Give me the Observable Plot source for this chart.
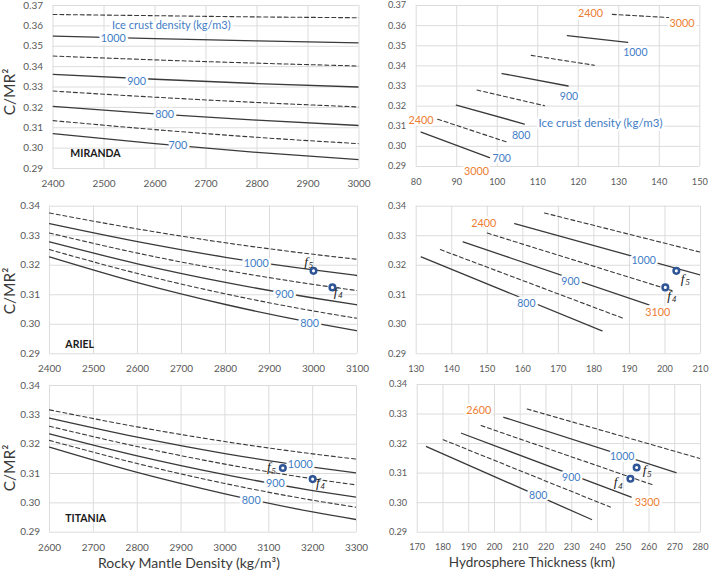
<!DOCTYPE html>
<html><head><meta charset="utf-8">
<script src="https://cdn.jsdelivr.net/npm/d3@7"></script>
<script src="https://cdn.jsdelivr.net/npm/@observablehq/plot@0.6"></script>
<style>
body{margin:0;background:#fff;}
#chart{position:relative;width:709px;height:573px;overflow:hidden;background:#fff;font-family:Lato,"Open Sans",sans-serif;}
#chart svg{position:absolute;}
.ttl{position:absolute;color:#3a3a3a;white-space:nowrap;line-height:1;}
</style></head><body><div id="chart"></div>
<script>
// ---------------- DATA ----------------
// MIRANDA
const mirandaIce = [1050, 1000, 950, 900, 850, 800, 750, 700];
const mirandaDensity = [2400, 2600, 2800, 3000];
const mirandaCM = [
  [0.3656, 0.3650, 0.3644, 0.3640],
  [0.3550, 0.3537, 0.3526, 0.3517],
  [0.3452, 0.3433, 0.3417, 0.3403],
  [0.3362, 0.3338, 0.3317, 0.3300],
  [0.3280, 0.3250, 0.3224, 0.3202],
  [0.3205, 0.3168, 0.3137, 0.3111],
  [0.3135, 0.3091, 0.3053, 0.3022],
  [0.3071, 0.3022, 0.2979, 0.2944]
];
const mirandaThickStart = [128.4, 117.3, 108.4, 101.2, 95.0, 89.9, 85.3, 81.2];
const mirandaThickEnd   = [142.3, 132.2, 124.0, 117.5, 111.7, 106.7, 102.3, 98.1];

// ARIEL
const arielIce = [1050, 1000, 950, 900, 850, 800];
const arielDensity = [2400, 2600, 2800, 3000, 3100];
const arielCM = [
  [0.3377, 0.3323, 0.3276, 0.3237, 0.3220],
  [0.3341, 0.3280, 0.3227, 0.3184, 0.3165],
  [0.3309, 0.3241, 0.3183, 0.3135, 0.3114],
  [0.3279, 0.3205, 0.3142, 0.3089, 0.3066],
  [0.3253, 0.3172, 0.3103, 0.3045, 0.3020],
  [0.3228, 0.3141, 0.3067, 0.3005, 0.2978]
];
const arielThickStart = [166.1, 157.7, 150.0, 143.2, 136.8, 131.4];
const arielThickEnd   = [218.0, 210.5, 202.0, 195.5, 188.3, 182.3];
const arielFit = ["5", "4"];
const arielFitDensity = [3000, 3043];
const arielFitCM = [0.3181, 0.3125];
const arielFitThick = [203.2, 200.1];

// TITANIA
const titaniaIce = [1050, 1000, 950, 900, 850, 800];
const titaniaDensity = [2600, 2800, 3000, 3200, 3300];
const titaniaCM = [
  [0.3317, 0.3259, 0.3209, 0.3167, 0.3149],
  [0.3289, 0.3224, 0.3168, 0.3122, 0.3102],
  [0.3261, 0.3192, 0.3132, 0.3082, 0.3061],
  [0.3235, 0.3160, 0.3096, 0.3042, 0.3019],
  [0.3213, 0.3134, 0.3066, 0.3009, 0.2985],
  [0.3190, 0.3104, 0.3031, 0.2969, 0.2943]
];
const titaniaThickStart = [212.7, 203.6, 194.8, 187.2, 180.1, 173.6];
const titaniaThickEnd   = [280.0, 270.5, 261.2, 253.1, 245.0, 237.7];
const titaniaFit = ["5", "4"];
const titaniaFitDensity = [3132, 3200];
const titaniaFitCM = [0.3119, 0.3081];
const titaniaFitThick = [255.2, 252.8];

// tick labels
const mirandaDensTicks = [2400, 2500, 2600, 2700, 2800, 2900, 3000];
const mirandaThickTicks = [80, 90, 100, 110, 120, 130, 140, 150];
const mirandaYTicks = [0.29, 0.30, 0.31, 0.32, 0.33, 0.34, 0.35, 0.36, 0.37];
const arielDensTicks = [2400, 2500, 2600, 2700, 2800, 2900, 3000, 3100];
const arielThickTicks = [130, 140, 150, 160, 170, 180, 190, 200, 210];
const titaniaDensTicks = [2600, 2700, 2800, 2900, 3000, 3100, 3200, 3300];
const titaniaThickTicks = [170, 180, 190, 200, 210, 220, 230, 240, 250, 260, 270, 280];
const smallYTicks = [0.29, 0.30, 0.31, 0.32, 0.33, 0.34];

// ---------------- STYLE ----------------
const FONT = "Lato, 'Open Sans', sans-serif";
const BLUE = "#3F7DC6", ORANGE = "#ED7D31", LINE = "#3a3a3a", GRID = "#dcdcdc", PT = "#2F5597";
const chart = document.getElementById("chart");

function leftRows(ice, dens, cm) {
  const rows = [];
  ice.forEach((v, i) => dens.forEach((x, j) => rows.push({ice: v, x, y: cm[i][j], dashed: v % 100 !== 0})));
  return rows;
}
function rightRows(ice, cm, ts, te) {
  const rows = [];
  ice.forEach((v, i) => {
    rows.push({ice: v, x: ts[i], y: cm[i][0], dashed: v % 100 !== 0});
    rows.push({ice: v, x: te[i], y: cm[i][cm[i].length - 1], dashed: v % 100 !== 0});
  });
  return rows;
}
function lineMarks(rows) {
  return [
    Plot.line(rows.filter(d => d.dashed), {x: "x", y: "y", z: "ice", stroke: LINE, strokeWidth: 1.1, strokeDasharray: "4,2.8", curve: "monotone-x", clip: true}),
    Plot.line(rows.filter(d => !d.dashed), {x: "x", y: "y", z: "ice", stroke: LINE, strokeWidth: 1.3, curve: "monotone-x", clip: true})
  ];
}
function labelMarks(labels, color, fs) {
  return Plot.text(labels, {x: "x", y: "y", text: "t", fill: color, stroke: "white", strokeWidth: 5, paintOrder: "stroke", fontSize: fs});
}
function fitMarks(names, xs, ys, lab) {
  const pts = names.map((n, i) => ({n, x: xs[i], y: ys[i]}));
  const labs = lab.map((l, i) => ({x: l[0], y: l[1], n: names[i]}));
  return [
    Plot.dot(pts, {x: "x", y: "y", r: 2.8, stroke: PT, strokeWidth: 2.5, fill: "white"}),
    Plot.text(labs, {x: "x", y: "y", text: () => "f", fontFamily: "'Liberation Serif', 'DejaVu Serif', serif", fontStyle: "italic", fontSize: 13.5, fill: "#222"}),
    Plot.text(labs, {x: "x", y: "y", text: "n", dx: 4.8, dy: 3.8, fontFamily: "'Liberation Serif', 'DejaVu Serif', serif", fontStyle: "italic", fontSize: 8.5, fill: "#222"})
  ];
}
function moonName(x, y, t) {
  return Plot.text([{x, y, t}], {x: "x", y: "y", text: "t", textAnchor: "start", fontWeight: "bold", fontSize: 10.5, fill: "#1a1a1a"});
}

function panel(o) {
  const svg = Plot.plot({
    width: o.w, height: o.h,
    marginLeft: o.ml, marginRight: o.mr, marginTop: o.mt, marginBottom: o.mb,
    style: {background: "transparent", overflow: "visible", fontFamily: FONT, fontSize: o.fs + "px", color: "#595959"},
    x: {domain: o.xd, ticks: o.xt, tickFormat: d => String(d), tickSize: 0, tickPadding: o.xpad, label: null},
    y: {domain: o.yd, ticks: o.yt, tickFormat: d => d.toFixed(2), tickSize: 0, tickPadding: o.ypad, label: null},
    marks: [
      Plot.ruleX(o.xt, {stroke: GRID, strokeWidth: 1}),
      Plot.ruleY(o.yt, {stroke: GRID, strokeWidth: 1}),
      ...o.marks
    ]
  });
  svg.style.left = o.left + "px";
  svg.style.top = o.top + "px";
  chart.appendChild(svg);
}

// ---------------- PANELS ----------------
// Miranda left
panel({
  left: 0, top: 0, w: 362, h: 190, ml: 52.5, mr: 3.5, mt: 5, mb: 22, fs: 10, xpad: 11.5, ypad: 10,
  xd: [2400, 3000], xt: mirandaDensTicks, yd: [0.29, 0.37], yt: mirandaYTicks,
  marks: [
    ...lineMarks(leftRows(mirandaIce, mirandaDensity, mirandaCM)),
    labelMarks([{x: 2632, y: 0.3601, t: "Ice crust density (kg/m3)"}], BLUE, 11),
    labelMarks([
      {x: 2518, y: 0.3538, t: "1000"},
      {x: 2564, y: 0.3327, t: "900"},
      {x: 2619, y: 0.3165, t: "800"},
      {x: 2645, y: 0.3013, t: "700"}
    ], BLUE, 10.8),
    moonName(2434, 0.2975, "MIRANDA")
  ]
});
// Miranda right
panel({
  left: 360, top: 0, w: 349, h: 190, ml: 55.7, mr: 9.7, mt: 5, mb: 24, fs: 9.2, xpad: 11.5, ypad: 10,
  xd: [80, 150], xt: mirandaThickTicks, yd: [0.29, 0.37], yt: mirandaYTicks,
  marks: [
    ...lineMarks(rightRows(mirandaIce, mirandaCM, mirandaThickStart, mirandaThickEnd)),
    labelMarks([
      {x: 134.1, y: 0.3468, t: "1000"},
      {x: 117.7, y: 0.3247, t: "900"},
      {x: 105.9, y: 0.3053, t: "800"},
      {x: 101.1, y: 0.2940, t: "700"}
    ], BLUE, 10.5),
    labelMarks([{x: 125.5, y: 0.3116, t: "Ice crust density (kg/m3)"}], BLUE, 11.5),
    labelMarks([
      {x: 123.0, y: 0.3658, t: "2400"},
      {x: 145.6, y: 0.3612, t: "3000"},
      {x: 81.2, y: 0.3127, t: "2400"},
      {x: 94.9, y: 0.2873, t: "3000"}
    ], ORANGE, 10.8)
  ]
});
// Ariel left
panel({
  left: 0, top: 190, w: 362, h: 180, ml: 49, mr: 5, mt: 15.7, mb: 16.7, fs: 10, xpad: 11.5, ypad: 9.5,
  xd: [2400, 3100], xt: arielDensTicks, yd: [0.29, 0.34], yt: smallYTicks,
  marks: [
    ...lineMarks(leftRows(arielIce, arielDensity, arielCM)),
    labelMarks([
      {x: 2870, y: 0.3205, t: "1000"},
      {x: 2934, y: 0.3100, t: "900"},
      {x: 2991, y: 0.3004, t: "800"}
    ], BLUE, 10.8),
    ...fitMarks(arielFit, arielFitDensity, arielFitCM, [[2983, 0.3213], [3050, 0.3111]]),
    moonName(2436, 0.2932, "ARIEL")
  ]
});
// Ariel right
panel({
  left: 360, top: 190, w: 349, h: 180, ml: 55.7, mr: 9, mt: 15.7, mb: 16.7, fs: 9.2, xpad: 11.5, ypad: 10,
  xd: [130, 210], xt: arielThickTicks, yd: [0.29, 0.34], yt: smallYTicks,
  marks: [
    ...lineMarks(rightRows(arielIce, arielCM, arielThickStart, arielThickEnd)),
    labelMarks([
      {x: 194.0, y: 0.3216, t: "1000"},
      {x: 173.4, y: 0.3146, t: "900"},
      {x: 161.0, y: 0.3070, t: "800"}
    ], BLUE, 10.5),
    labelMarks([
      {x: 149.0, y: 0.3342, t: "2400"},
      {x: 198.0, y: 0.3040, t: "3100"}
    ], ORANGE, 10.8),
    ...fitMarks(arielFit, arielFitThick, arielFitCM, [[205.0, 0.3154], [201.2, 0.3097]])
  ]
});
// Titania left
panel({
  left: 0, top: 370, w: 362, h: 175, ml: 49, mr: 6, mt: 15, mb: 13.3, fs: 10, xpad: 11.5, ypad: 9.5,
  xd: [2600, 3300], xt: titaniaDensTicks, yd: [0.29, 0.34], yt: smallYTicks,
  marks: [
    ...lineMarks(leftRows(titaniaIce, titaniaDensity, titaniaCM)),
    labelMarks([
      {x: 3172, y: 0.3132, t: "1000"},
      {x: 3115, y: 0.3067, t: "900"},
      {x: 3060, y: 0.3008, t: "800"}
    ], BLUE, 10.8),
    ...fitMarks(titaniaFit, titaniaFitDensity, titaniaFitCM, [[3100, 0.3122], [3212, 0.3068]]),
    moonName(2636, 0.2945, "TITANIA")
  ]
});
// Titania right
panel({
  left: 360, top: 370, w: 349, h: 175, ml: 56.7, mr: 9, mt: 14, mb: 13.3, fs: 9.2, xpad: 11.5, ypad: 10,
  xd: [170, 280], xt: titaniaThickTicks, yd: [0.29, 0.34], yt: smallYTicks,
  marks: [
    ...lineMarks(rightRows(titaniaIce, titaniaCM, titaniaThickStart, titaniaThickEnd)),
    labelMarks([
      {x: 249.6, y: 0.3156, t: "1000"},
      {x: 229.8, y: 0.3084, t: "900"},
      {x: 217.0, y: 0.3023, t: "800"}
    ], BLUE, 10.5),
    labelMarks([
      {x: 193.9, y: 0.3311, t: "2600"},
      {x: 259.3, y: 0.3002, t: "3300"}
    ], ORANGE, 10.8),
    ...fitMarks(titaniaFit, titaniaFitThick, titaniaFitCM, [[258.3, 0.3110], [247.0, 0.3070]])
  ]
});

// ---------------- AXIS TITLES ----------------
function title(text, x, y, size, rotate) {
  const d = document.createElement("div");
  d.className = "ttl";
  d.textContent = text;
  d.style.fontSize = size + "px";
  d.style.left = x + "px";
  d.style.top = y + "px";
  d.style.transform = "translate(-50%,-50%)" + (rotate ? " rotate(-90deg)" : "");
  chart.appendChild(d);
}
title("C/MR²", 10, 92, 15.5, true);
title("C/MR²", 10, 291, 15.5, true);
title("C/MR²", 10, 468, 15.5, true);
title("Rocky Mantle Density (kg/m³)", 189, 563, 14, false);
title("Hydrosphere Thickness (km)", 532, 563, 13.5, false);
</script></body></html>
